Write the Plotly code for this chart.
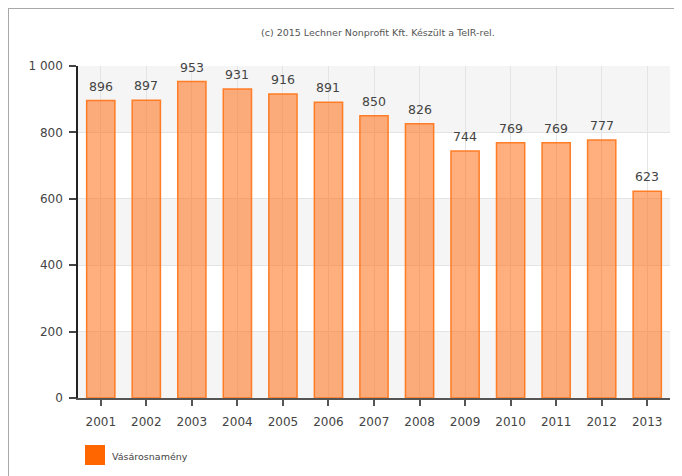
import plotly.graph_objects as go

years = ["2001", "2002", "2003", "2004", "2005", "2006", "2007",
         "2008", "2009", "2010", "2011", "2012", "2013"]
values = [896, 897, 953, 931, 916, 891, 850, 826, 744, 769, 769, 777, 623]
series_name = "Vásárosnamény"
y_ticks = [0, 200, 400, 600, 800, 1000]
credit = "(c) 2015 Lechner Nonprofit Kft. Készült a TeIR-rel."

FONT = "DejaVu Sans"
OFF = 8  # page body margin
W, H = 682 - OFF, 476 - OFF
L, R, T, B = 78 - OFF, 682 - 670, 66 - OFF, 476 - 398
pw, ph = W - L - R, H - T - B

def px_x(p):
    return (p - OFF - L) / pw

def px_y(p):
    return (H - B - (p - OFF)) / ph

fig = go.Figure()
fig.add_trace(go.Bar(
    x=years, y=values, name=series_name,
    marker=dict(color="rgba(255,110,20,0.55)",
                line=dict(color="rgba(255,120,30,0.95)", width=1.5)),
    width=0.62, showlegend=False,
))

shapes = []
for i in range(len(y_ticks) - 1):
    if i % 2 == 0:
        shapes.append(dict(type="rect", xref="paper", yref="y", x0=0, x1=1,
                           y0=y_ticks[i], y1=y_ticks[i + 1],
                           fillcolor="#F5F5F5", line=dict(width=0), layer="below"))
shapes.append(dict(type="line", xref="paper", yref="paper",
                   x0=px_x(8), x1=px_x(675), y0=px_y(8), y1=px_y(8),
                   line=dict(color="#A8A8A8", width=2)))
shapes.append(dict(type="line", xref="paper", yref="paper",
                   x0=px_x(8), x1=px_x(8), y0=px_y(8), y1=px_y(480),
                   line=dict(color="#A8A8A8", width=2)))
shapes.append(dict(type="rect", xref="paper", yref="paper",
                   x0=px_x(85), x1=px_x(105), y0=px_y(465), y1=px_y(445),
                   fillcolor="#FF6600", line=dict(width=0)))

annotations = []
for i, v in enumerate(values):
    annotations.append(dict(x=i, y=v, xref="x", yref="y", text=str(v),
                            showarrow=False, yanchor="bottom", yshift=5,
                            font=dict(family=FONT, size=12.5, color="#444444")))
annotations.append(dict(x=px_x(378), y=px_y(32), xref="paper", yref="paper",
                        text=credit, showarrow=False, yanchor="middle",
                        font=dict(family=FONT, size=9.5, color="#555555")))
annotations.append(dict(x=px_x(110), y=px_y(456), xref="paper", yref="paper",
                        text=series_name, showarrow=False, xanchor="left",
                        yanchor="middle",
                        font=dict(family=FONT, size=9.5, color="#444444")))

fig.update_layout(
    width=W, height=H,
    margin=dict(l=L, r=R, t=T, b=B, pad=0),
    paper_bgcolor="white", plot_bgcolor="white",
    separators=". ",
    bargap=0.38,
    shapes=shapes, annotations=annotations,
    font=dict(family=FONT, size=12, color="#444444"),
)
fig.update_xaxes(
    type="category", range=[-0.5, len(years) - 0.5],
    showgrid=True, gridcolor="#E4E4E4", gridwidth=1,
    showline=True, linecolor="#555555", linewidth=2,
    ticks="outside", ticklen=6, tickcolor="#555555", tickwidth=1.5,
    tickfont=dict(family=FONT, size=12, color="#444444"),
    ticklabelstandoff=6,
)
fig.update_yaxes(
    range=[0, 1000], tickvals=y_ticks, tickformat=",d",
    showgrid=True, gridcolor="#E4E4E4", gridwidth=1,
    showline=True, linecolor="#222222", linewidth=1.5,
    ticks="outside", ticklen=7, tickcolor="#444444", tickwidth=1.5,
    tickfont=dict(family=FONT, size=12, color="#444444"),
    ticklabelstandoff=4, zeroline=False,
)

fig.write_html("out.html")
